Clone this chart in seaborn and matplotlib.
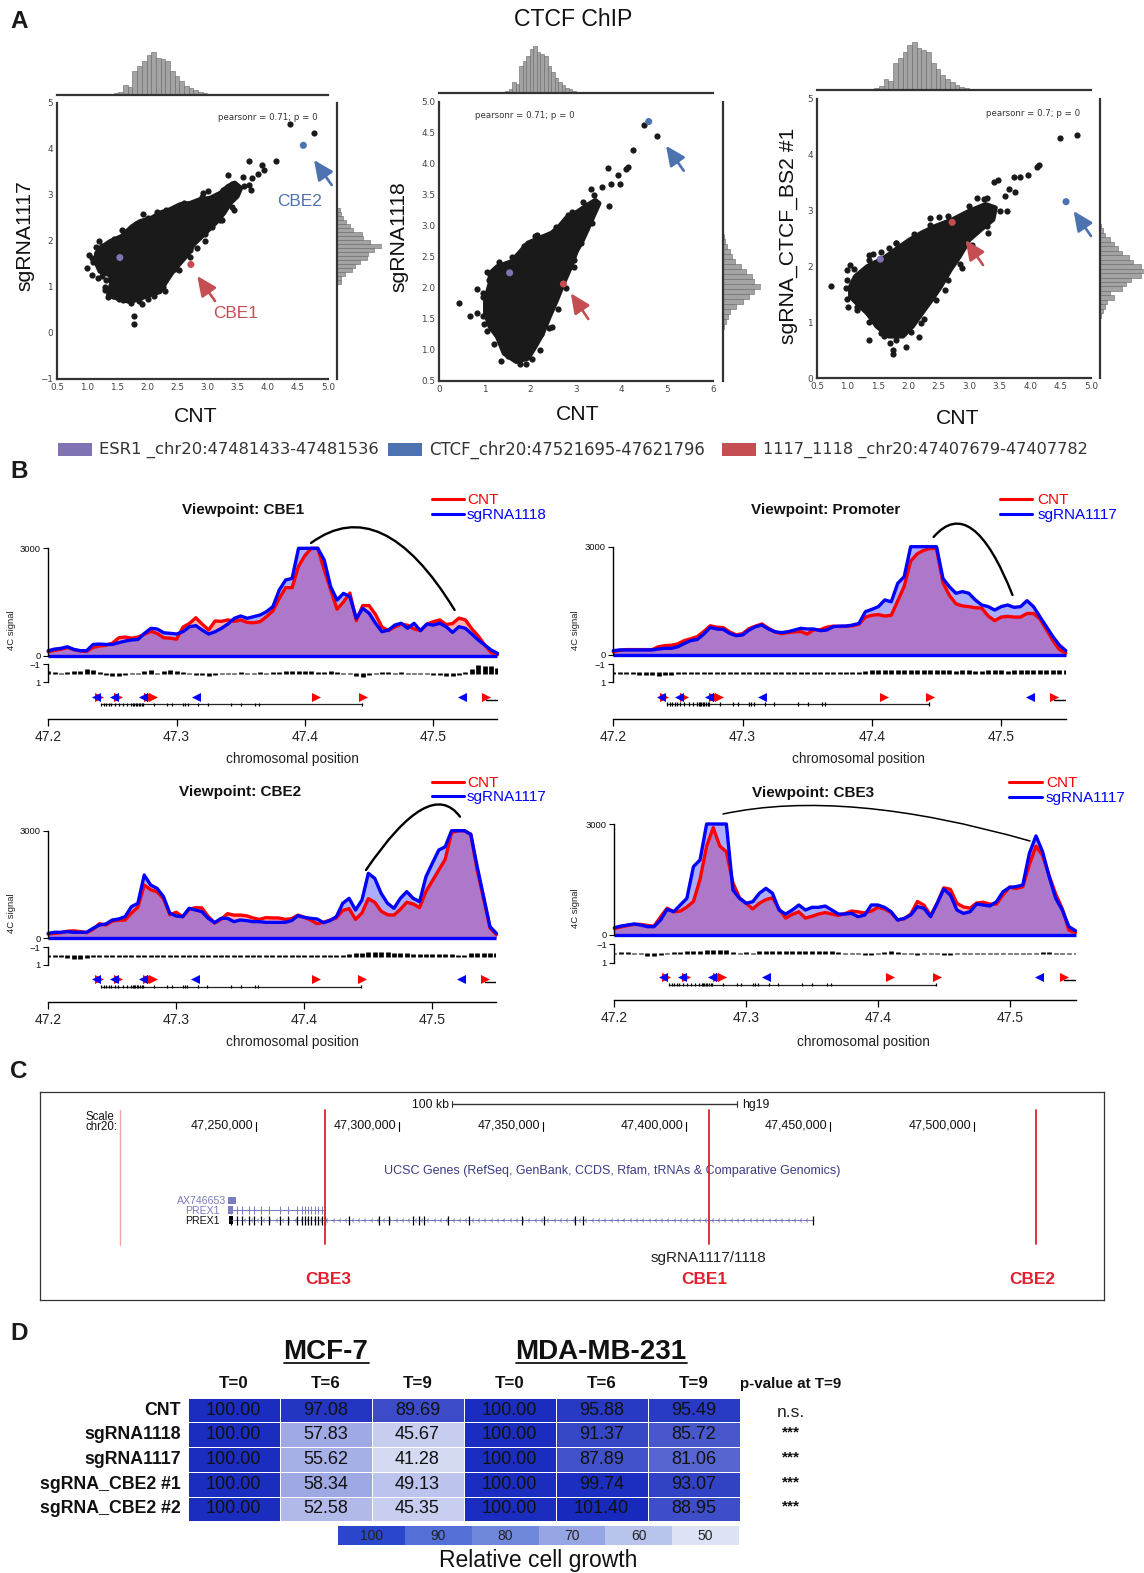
import numpy as np
import matplotlib
matplotlib.use('Agg')
import matplotlib.pyplot as plt
from matplotlib.colors import LinearSegmentedColormap, ListedColormap
from matplotlib.patches import Rectangle, PathPatch, FancyArrowPatch
from matplotlib.path import Path
import seaborn as sns

W, H = 1144, 1573

# ---- panel A data
cnt_centers = [1.40,1.48,1.56,1.63,1.71,1.79,1.87,1.94,2.02,2.10,2.18,2.25,2.33,2.41,2.49,2.56,2.64,2.72,2.80,2.87,2.95,3.03,3.11]
cnt_counts = [2,5,10,30,25,72,85,100,118,127,110,105,100,72,55,40,28,20,14,9,5,3,2]

sg1117_centers = [2.68,2.59,2.51,2.42,2.33,2.25,2.16,2.07,1.99,1.90,1.81,1.72,1.64,1.55,1.46,1.38,1.29,1.20,1.12]
sg1117_counts = [8,13,18,28,38,48,75,78,100,135,110,92,90,68,55,45,25,12,12]
sg1118_centers = [2.82,2.74,2.66,2.58,2.50,2.42,2.34,2.26,2.18,2.10,2.02,1.94,1.86,1.78,1.70,1.62,1.54,1.46,1.38]
sg1118_counts = [3,5,10,15,20,25,38,48,60,65,78,65,55,42,28,15,12,8,3]
sgbs2_centers = [2.72,2.64,2.56,2.48,2.40,2.32,2.24,2.16,2.08,2.00,1.92,1.84,1.76,1.68,1.60,1.52,1.44,1.36,1.28,1.20,1.12]
sgbs2_counts = [2,6,10,20,30,38,45,60,70,85,92,85,65,55,45,20,30,15,10,6,3]

# dense part of each scatter is kept as an outline, the loose points as points
blob1_x = [1.15,1.21,1.38,1.57,1.74,1.87,2.07,2.21,2.37,2.54,2.71,2.87,3.04,3.21,3.34,3.45,3.55,3.49,3.37,3.27,3.15,3.01,2.87,2.76,2.68,2.54,2.40,2.29,2.21,2.04,1.87,1.71,1.51,1.35,1.40,1.38,1.21,1.15]
blob1_y = [1.73,1.84,1.99,2.10,2.31,2.42,2.50,2.61,2.68,2.79,2.82,2.90,2.93,3.04,3.19,3.26,3.15,2.97,2.82,2.61,2.42,2.24,2.06,1.92,1.73,1.52,1.30,1.08,0.90,0.83,0.75,0.68,0.75,0.83,1.08,1.26,1.34,1.52]
pts1_x = [4.37,4.76,4.14,3.69,3.90,3.94,3.33,3.59,3.74,3.84,3.68,3.72,3.44,2.93,3.01,1.93,2.16,1.58,1.20,1.15,1.03,1.07,0.99,1.08,1.18,1.31,1.29,1.35,1.53,1.72,1.91,2.00,1.78,1.78,2.29,2.52,2.70,2.82,2.96,3.23,3.07,
          1.10,1.25,1.45,1.65,1.80,2.00,2.30,2.60,2.90,3.25,3.40,3.60,3.40,3.20,2.95,2.70,2.45,2.25,2.10,1.85,1.60,1.42,1.30,1.25]
pts1_y = [4.54,4.35,3.74,3.74,3.66,3.55,3.43,3.39,3.37,3.46,3.22,3.11,2.68,3.05,3.08,2.58,2.64,2.24,2.01,1.88,1.70,1.63,1.41,1.26,1.19,1.15,0.94,0.79,0.73,0.65,0.62,0.73,0.36,0.20,0.92,1.36,1.66,1.84,2.01,2.45,2.31,
          1.55,1.90,2.05,2.20,2.38,2.50,2.68,2.82,2.95,3.10,3.25,3.20,2.75,2.45,2.15,1.80,1.40,1.00,0.80,0.70,0.72,0.80,1.00,1.25]

blob2_x = [1.11,1.11,1.27,1.58,1.74,1.94,2.20,2.46,2.62,2.78,3.04,3.24,3.42,3.50,3.42,3.27,3.14,3.00,2.88,2.72,2.57,2.41,2.26,2.10,1.94,1.68,1.42,1.27,1.11,1.01,1.01]
blob2_y = [2.07,2.23,2.34,2.42,2.55,2.72,2.80,2.88,2.98,3.12,3.23,3.33,3.41,3.36,3.23,2.98,2.77,2.58,2.34,2.07,1.80,1.53,1.26,1.05,0.86,0.81,0.94,1.21,1.37,1.59,1.80]
pts2_x = [4.49,4.77,4.24,3.69,4.13,4.09,3.91,3.97,3.32,3.56,3.76,3.71,0.44,0.67,0.82,0.82,1.09,1.29,1.68,2.10,0.96,0.98,1.34,1.76,1.89,2.48,2.22,2.96,2.83,
          1.05,1.30,1.60,1.85,2.15,2.55,2.90,3.15,3.40,3.35,3.10,2.95,2.78,2.60,2.40,2.20,2.02,1.75,1.50,1.20,1.05,0.95,0.95]
pts2_y = [4.63,4.44,4.22,3.93,3.94,3.91,3.81,3.67,3.60,3.63,3.68,3.31,1.76,1.55,1.59,1.98,2.12,2.30,2.48,2.83,1.91,1.41,0.82,0.77,0.77,1.36,1.25,2.33,3.17,
          2.25,2.42,2.50,2.68,2.85,2.98,3.22,3.38,3.50,3.05,2.72,2.45,2.00,1.65,1.35,1.00,0.85,0.82,0.90,1.10,1.30,1.55,1.85]

blob3_x = [1.05,1.13,1.33,1.60,1.83,2.03,2.22,2.45,2.73,3.00,3.27,3.43,3.39,3.19,3.00,2.84,2.69,2.53,2.38,2.22,2.07,1.91,1.68,1.48,1.33,1.21,1.05]
blob3_y = [1.64,1.82,2.00,2.15,2.33,2.48,2.60,2.72,2.84,2.99,3.11,3.05,2.84,2.66,2.48,2.18,1.94,1.64,1.40,1.16,0.93,0.75,0.75,0.93,1.16,1.28,1.46]
pts3_x = [4.49,4.77,4.14,4.11,3.97,3.84,3.74,3.41,3.48,3.66,3.76,3.62,3.12,3.30,3.06,2.51,2.35,1.79,1.68,1.36,1.42,1.05,0.99,0.73,0.98,1.01,1.15,1.33,1.35,1.60,1.70,1.75,1.75,1.96,2.17,2.20,2.61,2.88,3.31,3.58,
          1.00,1.10,1.35,1.55,1.80,2.10,2.35,2.65,3.00,3.25,3.50,3.30,3.05,2.85,2.65,2.45,2.25,2.05,1.80,1.55,1.35,1.15,1.00]
pts3_y = [4.31,4.36,3.81,3.78,3.63,3.60,3.61,3.52,3.54,3.39,3.33,2.99,3.23,3.23,3.00,2.88,2.87,2.42,2.33,2.21,2.23,2.02,1.94,1.64,1.61,1.28,1.28,1.16,0.68,0.75,0.63,0.51,0.43,0.55,0.73,0.99,1.58,1.97,2.60,3.26,
          1.75,1.95,2.12,2.25,2.42,2.58,2.75,2.90,3.08,3.20,3.00,2.72,2.38,2.05,1.75,1.40,1.05,0.82,0.68,0.80,1.00,1.22,1.42]

# highlighted sites: ESR1, CTCF, 1117_1118
hi_x = [1.54,4.59,2.72]
hi1_y = [1.64,4.08,1.49]
hi2_y = [2.24,4.68,2.06]
hi3_y = [2.13,3.16,2.79]
legend_labels = ['ESR1 _chr20:47481433-47481536', 'CTCF_chr20:47521695-47621796', '1117_1118 _chr20:47407679-47407782']

# ---- panel B data, signal every 5 kb from 47.200 to 47.550
positions = np.arange(47200, 47551, 5) / 1000

cbe1_cnt = [110,150,180,230,170,130,120,230,270,290,350,500,520,490,520,600,680,620,500,490,460,800,900,1060,880,720,970,960,1000,960,1000,930,920,950,1090,1250,1600,1900,1900,2500,2800,3000,3000,2400,1850,1300,1500,1750,980,1400,1400,1150,800,700,800,880,850,750,700,880,950,1000,870,900,1050,1000,750,550,300,90,30]
cbe1_sg = [140,185,205,250,175,140,140,315,325,315,315,365,410,440,455,625,765,745,640,625,605,670,810,840,715,605,670,765,885,1045,1110,1045,1090,1135,1230,1370,1835,2115,2160,3000,3000,3000,3000,2675,1930,1555,1740,1650,1045,1320,1185,905,670,715,855,905,765,905,700,885,855,905,810,650,810,765,605,440,300,160,65]

prom_cnt = [90,130,150,150,150,150,150,230,260,270,310,400,450,510,650,810,770,760,640,560,590,730,800,860,740,640,590,620,640,650,580,700,700,770,800,790,800,810,850,1050,1100,1120,1080,1100,1500,1900,2600,2800,2900,2950,2950,2000,1650,1420,1360,1340,1310,1300,1080,950,1050,1070,1050,1050,1150,1150,1000,700,400,150,50]
prom_sg = [120,140,140,140,140,140,140,165,185,185,230,320,400,430,580,765,720,710,600,535,555,690,785,830,720,645,620,645,690,740,720,720,675,690,785,800,800,830,875,1200,1265,1340,1525,1475,1985,2170,3000,3000,3000,3000,3000,2120,1890,1710,1755,1710,1525,1385,1340,1245,1340,1385,1320,1340,1505,1340,1060,785,510,275,120]

cbe2_cnt = [110,130,150,190,200,180,150,240,400,360,470,500,500,700,860,1480,1350,1290,1100,650,720,590,800,850,840,600,420,520,680,640,640,620,560,520,570,560,560,520,540,640,580,500,400,440,500,560,770,820,520,700,1100,1000,750,650,640,800,1000,950,850,1300,1600,1900,2200,2950,3000,3000,2900,1900,1100,280,90]
cbe2_sg = [130,160,160,177,160,160,160,270,363,391,503,531,596,876,969,1761,1482,1389,1156,690,615,596,830,783,736,550,429,550,550,457,503,485,457,457,438,438,438,438,485,624,578,550,531,429,485,596,969,1109,783,1062,1808,1668,1249,969,830,1109,1295,1109,1016,1715,2090,2460,2550,3000,3000,3000,2900,1995,1156,317,130]

cbe3_cnt = [170,210,250,280,280,250,230,480,720,620,640,750,900,1500,2400,2900,2400,2250,1400,1000,850,700,850,950,1000,700,450,550,620,450,500,560,600,560,520,570,640,620,590,640,740,700,600,400,430,560,900,800,520,850,1270,1230,850,750,720,860,880,830,830,1080,1290,1250,1300,1900,2400,2150,1600,1100,700,120,60]
cbe3_sg = [190,235,262,290,262,217,217,398,687,624,805,985,1845,2025,3000,3000,3000,3000,1211,985,850,895,1121,1257,1121,669,560,669,805,669,741,741,777,669,560,560,578,488,533,805,805,741,624,398,443,533,760,714,488,850,1238,1076,669,578,624,832,805,777,895,1166,1284,1302,1347,2206,2676,2251,1573,985,669,217,108]

# log ratio track under each profile (negative is up)
cbe1_diff = [-0.2,-0.1,0.1,-0.1,-0.3,-0.3,-0.5,-0.4,-0.1,0.2,0.3,0.3,0.2,0.1,0,-0.2,-0.4,0,-0.3,-0.4,-0.2,-0.1,0.1,0.2,0.2,0.3,0.2,0.1,0,0,-0.1,0,0,-0.1,0,-0.1,-0.1,-0.2,-0.3,-0.3,-0.3,-0.2,-0.1,-0.1,-0.2,-0.1,0,0.1,0.3,0.4,0.2,0,-0.1,-0.1,0,-0.1,0.1,0,0.1,0.1,0.2,0.2,0.3,0.3,0.2,-0.1,-0.5,-0.9,-0.8,-0.8,-0.6]
prom_diff = [0,0.05,0.1,0.15,0.2,0.25,0.25,0.3,0.25,0.2,0.1,0.1,0.1,0.1,0.05,0.05,0,0,0,0,-0.05,0,0,0,0,-0.05,0,0,-0.1,-0.1,-0.1,-0.1,-0.1,0,-0.1,-0.1,-0.1,-0.1,-0.1,-0.2,-0.3,-0.3,-0.3,-0.3,-0.3,-0.35,-0.35,-0.35,-0.3,-0.3,-0.3,-0.3,-0.3,-0.25,-0.3,-0.3,-0.25,-0.25,-0.3,-0.3,-0.3,-0.25,-0.3,-0.3,-0.3,-0.3,-0.3,-0.3,-0.3,-0.3,-0.3]
cbe2_diff = [-0.1,0,0.1,0.2,0.3,0.35,0.2,0.1,0.1,0,-0.1,-0.1,-0.15,-0.15,-0.15,-0.1,0,0.1,0,0,0,0,0,0,-0.05,-0.05,0,0,0.05,0.05,0.1,0.1,0.1,0.1,0.1,0.1,0.1,0.05,0.05,0,-0.05,-0.1,-0.1,-0.15,-0.1,-0.05,-0.1,-0.2,-0.3,-0.4,-0.45,-0.5,-0.5,-0.45,-0.3,-0.3,-0.3,-0.25,-0.25,-0.25,-0.25,-0.25,-0.25,-0.2,-0.1,-0.15,-0.35,-0.3,-0.3,-0.35,-0.3]
cbe3_diff = [-0.05,-0.1,-0.1,0,0.1,0.3,0.3,0.2,0,-0.1,-0.15,-0.25,-0.3,-0.3,-0.35,-0.4,-0.4,-0.35,-0.1,-0.05,-0.1,-0.05,-0.2,-0.25,-0.2,-0.2,-0.25,-0.25,-0.2,-0.2,-0.25,-0.3,-0.3,-0.25,-0.1,0,0,0.1,0.2,0.15,-0.05,-0.1,-0.2,-0.1,0.1,0.1,0.15,0.1,0.05,0.1,0.15,0.15,0.1,0.1,0.1,0.05,0,0,0.05,0,-0.05,-0.05,-0.05,0,-0.05,-0.1,-0.1,-0.05,-0.05,0,0]

ctcf_left = [47.237,47.251,47.274,47.315,47.522]
ctcf_right = [47.2395,47.2545,47.2775,47.2800,47.2815,47.409,47.445,47.541]
prex1_exons = [47241.5,47243.5,47245.1,47247.6,47249.3,47251.9,47254.8,47258.4,47261.3,47264.5,47266.2,47267.2,47268.1,47269.3,47270.5,47271.7,47273.0,47274.2,47282.6,47292.8,47296.4,47304.9,47306.8,47308.7,47317.0,47324.2,47342.6,47350.3,47361.2,47364.1,47444.2]

# ---- panel C data
browser_ticks = [47250,47300,47350,47400,47450,47500]
browser_labels = ['47,250,000','47,300,000','47,350,000','47,400,000','47,450,000','47,500,000']
bright_sites = [47274.0,47407.7,47521.7]
pale_site = 47202.6
site_names = ['CBE3','CBE1','CBE2']
site_label_x = [47275.4,47406.2,47520.4]

# ---- panel D data
growth_rows = ['CNT','sgRNA1118','sgRNA1117','sgRNA_CBE2 #1','sgRNA_CBE2 #2']
growth_cols = ['T=0','T=6','T=9','T=0','T=6','T=9']
growth = [[100.00,97.08,89.69,100.00,95.88,95.49],
          [100.00,57.83,45.67,100.00,91.37,85.72],
          [100.00,55.62,41.28,100.00,87.89,81.06],
          [100.00,58.34,49.13,100.00,99.74,93.07],
          [100.00,52.58,45.35,100.00,101.40,88.95]]
pvalues = ['n.s.','***','***','***','***']
scale_values = [100,90,80,70,60,50]
scale_colors = ['#2a47cc','#5470d8','#7088dc','#96a6e4','#b8c4ec','#dde2f4']

sns.set_theme(style='white')
plt.rcParams['font.family'] = ['Liberation Sans', 'DejaVu Sans']
deep = sns.color_palette('deep')
c_blue, c_red, c_purple = deep[0], deep[3], deep[4]
DARK = '#1a1a1a'
SPINE = '#333333'

fig = plt.figure(figsize=(W / 100, H / 100), dpi=100, facecolor='white')


def box(l, t, r, b):
    return fig.add_axes([l / W, 1 - b / H, (r - l) / W, (b - t) / H])


# everything that is only annotation goes on this pixel sized layer
ov = fig.add_axes([0, 0, 1, 1], zorder=20)
ov.set_xlim(0, W)
ov.set_ylim(H, 0)
ov.axis('off')
ov.patch.set_alpha(0)


def label(x, y, s, size, **kw):
    kw.setdefault('ha', 'center')
    kw.setdefault('va', 'center')
    # matplotlib centres on the full line box, these nudges put the glyphs where they belong
    if kw.get('rotation') == 90:
        x += 2
    else:
        y += 1
    ov.text(x, y, s, fontsize=size, **kw)


def arrow(tail, head, color):
    ov.add_patch(FancyArrowPatch(tail, head, color=color, lw=1.9,
                                 arrowstyle='-|>,head_length=0.7,head_width=0.32',
                                 mutation_scale=17, shrinkA=0, shrinkB=0))


def top_hist(rect, xlim):
    ax = box(*rect)
    w = 0.0776
    sns.histplot(x=cnt_centers, weights=cnt_counts, bins=len(cnt_centers),
                 binrange=(cnt_centers[0] - w / 2, cnt_centers[-1] + w / 2), ax=ax,
                 color='#a3a3a3', edgecolor='#666666', linewidth=0.4, alpha=1)
    ax.set_xlim(*xlim)
    ax.set_ylim(0, 127)
    ax.set(xlabel='', ylabel='', xticks=[], yticks=[])
    sns.despine(ax=ax, left=True)
    ax.spines['bottom'].set(color=SPINE, lw=1.6)
    ax.patch.set_alpha(0)


def right_hist(rect, centers, counts, ylim):
    ax = box(*rect)
    w = abs(centers[1] - centers[0])
    sns.histplot(y=centers, weights=counts, bins=len(centers),
                 binrange=(centers[-1] - w / 2, centers[0] + w / 2), ax=ax,
                 color='#a3a3a3', edgecolor='#666666', linewidth=0.4, alpha=1)
    ax.set_ylim(*ylim)
    ax.set_xlim(0, max(counts))
    ax.set(xlabel='', ylabel='', xticks=[], yticks=[])
    sns.despine(ax=ax, bottom=True)
    ax.spines['left'].set(color=SPINE, lw=1.6)
    ax.patch.set_alpha(0)


def joint(rect, xlim, ylim, xticks, yticks, xfmt, yfmt, blob, pts, hi_y):
    ax = box(*rect)
    ax.fill(blob[0], blob[1], color=DARK, lw=3.5, joinstyle='round')
    sns.scatterplot(x=pts[0], y=pts[1], color=DARK, s=20, linewidth=0, ax=ax)
    sns.scatterplot(x=hi_x, y=hi_y, hue=['e', 'c', 'r'], palette=[c_purple, c_blue, c_red],
                    s=26, linewidth=0, ax=ax, legend=False, zorder=5)
    ax.set_xlim(*xlim)
    ax.set_ylim(*ylim)
    ax.set_xticks(xticks)
    ax.set_yticks(yticks)
    ax.set_xticklabels([xfmt % v for v in xticks], family='DejaVu Sans', color='#444444')
    ax.set_yticklabels([(yfmt % v).replace('-', '\u2212') for v in yticks], family='DejaVu Sans', color='#444444')
    ax.tick_params(labelsize=6.4, length=0, pad=3)
    sns.despine(ax=ax)
    for s in ['left', 'bottom']:
        ax.spines[s].set(color=SPINE, lw=1.6)
    return ax


# ---- panel A
joint((57.3, 103, 328, 379), (0.5, 5), (-1, 5), [0.5,1,1.5,2,2.5,3,3.5,4,4.5,5], [-1,0,1,2,3,4,5],
      '%.1f', '%d', (blob1_x, blob1_y), (pts1_x, pts1_y), hi1_y)
top_hist((57.3, 52, 328, 95), (0.5, 5))
right_hist((337, 103, 382, 379), sg1117_centers, sg1117_counts, (-1, 5))

joint((439.4, 101.7, 713, 380.7), (0, 6), (0.5, 5), [0,1,2,3,4,5,6], [0.5,1,1.5,2,2.5,3,3.5,4,4.5,5],
      '%d', '%.1f', (blob2_x, blob2_y), (pts2_x, pts2_y), hi2_y)
top_hist((439.4, 46, 713, 92.7), (0, 6))
right_hist((722.6, 101.7, 760.5, 380.7), sg1118_centers, sg1118_counts, (0.5, 5))

joint((817, 99, 1091, 378), (0.5, 5), (0, 5), [0.5,1,1.5,2,2.5,3,3.5,4,4.5,5], [0,1,2,3,4,5],
      '%.1f', '%d', (blob3_x, blob3_y), (pts3_x, pts3_y), hi3_y)
top_hist((817, 42, 1091, 90), (0.5, 5))
right_hist((1100, 99, 1144, 378), sgbs2_centers, sgbs2_counts, (0, 5))

label(573, 18.5, 'CTCF ChIP', 16.6, color='#111111')
label(23.3, 236, 'sgRNA1117', 15.2, rotation=90, color='#111111')
label(397.4, 237, 'sgRNA1118', 15.2, rotation=90, color='#111111')
label(786, 236, 'sgRNA_CTCF_BS2 #1', 15.2, rotation=90, color='#111111')
label(196, 416, 'CNT', 15.2, color='#111111')
label(578, 413, 'CNT', 15.2, color='#111111')
label(958, 418, 'CNT', 15.2, color='#111111')
pearson_kw = dict(family='DejaVu Sans', color='#333333')
label(267.7, 116, 'pearsonr = 0.71; p = 0', 6.2, **pearson_kw)
label(524.5, 114.3, 'pearsonr = 0.71; p = 0', 6.2, **pearson_kw)
label(1033.3, 112, 'pearsonr = 0.7; p = 0', 6.2, **pearson_kw)

arrow((215, 301), (197.3, 276), c_red)
arrow((331.7, 185), (314, 160), c_blue)
arrow((588.3, 319), (570.8, 293.3), c_red)
arrow((683.7, 170.7), (666, 145.7), c_blue)
arrow((983, 265), (965.5, 240), c_red)
arrow((1091, 236), (1073.6, 211), c_blue)
label(300, 201, 'CBE2', 12.4, color=c_blue)
label(236, 312.7, 'CBE1', 12.4, color=c_red)

for (x0, x1, tx, fs), name, col in zip([(57.5, 92, 99, 11.8), (388, 421.8, 429.4, 11.9), (722, 755.8, 763, 11.65)],
                                       legend_labels, [c_purple, c_blue, c_red]):
    ov.add_patch(Rectangle((x0, 443), x1 - x0, 12.5, color=col, lw=0))
    label(tx, 449, name, fs, ha='left', family='DejaVu Sans', color='#333333')


# ---- panel B
def profile(cfg, cnt, sg, diff):
    l, r = cfg['l'], cfg['r']
    ax = box(l, cfg['y3000'], r, cfg['y0'])
    ax.fill_between(positions, cnt, color='red', alpha=0.3, lw=0)
    sns.lineplot(x=positions, y=cnt, color='red', lw=2.4, ax=ax, errorbar=None, clip_on=False)
    ax.fill_between(positions, sg, color='blue', alpha=0.32, lw=0)
    sns.lineplot(x=positions, y=sg, color='blue', lw=2.4, ax=ax, errorbar=None, clip_on=False)
    ax.plot([47.2, 47.55], [0, 0], color='blue', lw=2.4, clip_on=False, solid_capstyle='butt')
    ax.set_xlim(47.2, 47.55)
    ax.set_ylim(0, 3000)
    ax.set_xticks([])
    ax.set_yticks([0, 3000])
    ax.tick_params(left=True, length=3.5, width=0.8, labelsize=6.8, pad=2, color='black', labelcolor='#111111')
    ax.set(xlabel='', ylabel='')
    sns.despine(ax=ax, bottom=True)
    ax.spines['left'].set(color='black', lw=1)
    ax.patch.set_alpha(0)

    d = box(l, cfg['ym1'], r, cfg['yp1'])
    # every bar keeps a small height so the track does not vanish at zero
    d.vlines(positions, np.minimum(diff, -0.08), np.maximum(diff, 0.08), color='black', lw=3.4)
    d.set_xlim(47.2, 47.55)
    d.set_ylim(1, -1)
    d.set_xticks([])
    d.set_yticks([-1, 1])
    d.set_yticklabels(['\u22121', '1'])
    d.tick_params(left=True, length=3.5, width=0.8, labelsize=6.8, pad=2, color='black', labelcolor='#111111')
    sns.despine(ax=d, bottom=True)
    d.spines['left'].set(color='black', lw=1)
    d.patch.set_alpha(0)

    ya, yg, yx = cfg['yarrow'], cfg['ygene'], cfg['yaxis']
    step = yg - ya
    t = box(l, ya - step, r, yx)
    t.set_xlim(47.2, 47.55)
    t.set_ylim((yx - ya) / step, -1)
    sns.scatterplot(x=ctcf_right, y=[0] * len(ctcf_right), color='red', marker='>', s=42, linewidth=0, ax=t, clip_on=False)
    sns.scatterplot(x=ctcf_left, y=[0] * len(ctcf_left), color='blue', marker='<', s=42, linewidth=0, ax=t, clip_on=False)
    t.plot([47.2415, 47.4442], [1, 1], color='#222222', lw=0.9)
    ex = np.array(prex1_exons) / 1000
    t.vlines(ex[ex < 47.4442], 0.78, 1.22, color='black', lw=0.9)
    t.plot([47.541, 47.55], [0.42, 0.42], color='black', lw=1)
    t.set_xticks([47.2, 47.3, 47.4, 47.5])
    t.set_xticklabels(['47.2', '47.3', '47.4', '47.5'])
    t.set_yticks([])
    t.tick_params(bottom=True, length=5, width=0.9, labelsize=10, pad=3, color='black', labelcolor='#222222')
    sns.despine(ax=t, left=True)
    t.spines['bottom'].set(color='black', lw=1)
    t.patch.set_alpha(0)

    label(cfg['title_x'], cfg['title_y'], 'Viewpoint: ' + cfg['view'], 11, weight='bold', color='#111111')
    label(cfg['xlab_x'], cfg['xlab_y'], 'chromosomal position', 9.8, color='#222222')
    label(cfg['ylab_x'], cfg['ylab_y'], '4C signal', 6.8, rotation=90, color='#222222')
    lx0, lx1, lt, ly0, ly1 = cfg['leg']
    ov.plot([lx0, lx1], [ly0, ly0], color='red', lw=2.2)
    ov.plot([lx0, lx1], [ly1, ly1], color='blue', lw=2.2)
    label(lt, ly0, 'CNT', 11, ha='left', color='red')
    label(lt, ly1, cfg['sg'], 11, ha='left', color='blue')
    p0, c, p2 = cfg['arc']
    ov.add_patch(PathPatch(Path([p0, c, p2], [Path.MOVETO, Path.CURVE3, Path.CURVE3]),
                           fc='none', ec='black', lw=cfg.get('arc_lw', 1.7), capstyle='round'))


profile(dict(l=48.2, r=497.5, y3000=548.3, y0=655.7, ym1=664.3, yp1=682.3, yarrow=697, ygene=704.3, yaxis=719.3,
             view='CBE1', sg='sgRNA1118', title_x=243, title_y=509, xlab_x=292.6, xlab_y=758, ylab_x=10, ylab_y=630,
             leg=(432, 464, 467, 499, 514), arc=((311, 543), (382, 491), (454.6, 610))),
        cbe1_cnt, cbe1_sg, cbe1_diff)
profile(dict(l=613.3, r=1065.8, y3000=546.7, y0=655, ym1=664, yp1=682, yarrow=696.7, ygene=704, yaxis=719.3,
             view='Promoter', sg='sgRNA1117', title_x=826, title_y=509, xlab_x=858.7, xlab_y=758, ylab_x=574, ylab_y=630,
             leg=(999.5, 1032, 1037.5, 499, 514), arc=((933.6, 537), (972, 492.6), (1012.5, 595))),
        prom_cnt, prom_sg, prom_diff)
profile(dict(l=48.2, r=496.4, y3000=830.7, y0=938, ym1=947.3, yp1=965, yarrow=979.3, ygene=986.7, yaxis=1001.7,
             view='CBE2', sg='sgRNA1117', title_x=240.4, title_y=790.7, xlab_x=292, xlab_y=1040.7, ylab_x=10, ylab_y=913,
             leg=(432, 464, 467, 781.7, 796), arc=((366, 870), (430, 776), (460, 816.7))),
        cbe2_cnt, cbe2_sg, cbe2_diff)
profile(dict(l=614.4, r=1075.5, y3000=824, y0=934.7, ym1=944, yp1=962.7, yarrow=977.3, ygene=984.7, yaxis=1000.3,
             view='CBE3', sg='sgRNA1117', title_x=813, title_y=791.7, xlab_x=863.5, xlab_y=1040.7, ylab_x=574, ylab_y=908,
             leg=(1008.8, 1042.3, 1046, 781.7, 796.7), arc=((723, 814), (845, 788), (1030, 841)), arc_lw=1.1),
        cbe3_cnt, cbe3_sg, cbe3_diff)

# ---- panel C, x in kb on the chromosome, y in pixels of the page
bx = box(40, 1092, 1104, 1300)
bx.set_xlim(47174.9, 47545.4)
bx.set_ylim(1300, 1092)
bx.set_xticks([])
bx.set_yticks([])
for s in bx.spines.values():
    s.set(color='#333333', lw=0.9, visible=True)
for k, lab in zip(browser_ticks, browser_labels):
    bx.plot([k, k], [1122, 1131], color='black', lw=0.8)
    bx.annotate(lab, (k, 1126), xytext=(-2, 0), textcoords='offset points', ha='right', va='center', fontsize=9, color='#111111')
bx.plot([pale_site, pale_site], [1110, 1245], color='#f4a6a6', lw=1)
for k in bright_sites:
    bx.plot([k, k], [1110, 1244], color='#d9232e', lw=1.3, zorder=4)
for k, name in zip(site_label_x, site_names):
    bx.text(k, 1280, name, ha='center', va='center', fontsize=12.4, weight='bold', color='#e0202c')
bx.text(47407.5, 1257.7, 'sgRNA1117/1118', ha='center', va='center', fontsize=11, color='#222222')
bx.text(47374, 1171, 'UCSC Genes (RefSeq, GenBank, CCDS, Rfam, tRNAs & Comparative Genomics)', ha='center', va='center',
        fontsize=9, color='#3b3b86')
ex = np.array(prex1_exons)
light = ex[ex < 47274]
bx.plot([47241, 47273.5], [1210, 1210], color='#7c7cc0', lw=0.8)
bx.vlines(light, 1206, 1214, color='#7c7cc0', lw=0.7)
bx.add_patch(Rectangle((47240.2, 1197), 2.8, 7, color='#7c7cc0', lw=0))
bx.add_patch(Rectangle((47240.2, 1206), 2.0, 8, color='#7c7cc0', lw=0))
chev = np.arange(47246, 47444, 2.2)
bx.plot(chev, [1220] * len(chev), ls='none', marker='3', ms=3.6, mew=0.6, color='#6a6ab0')
bx.plot([47241, 47444.2], [1220, 1220], color='#6a6ab0', lw=0.6)
bx.vlines(ex, 1215.5, 1224.5, color='black', lw=0.9, zorder=3)
bx.add_patch(Rectangle((47240.6, 1216), 1.5, 8, color='black', lw=0))
label(225.8, 1200, 'AX746653', 7.6, ha='right', color='#7c7cc0')
label(220, 1209.5, 'PREX1', 7.6, ha='right', color='#7c7cc0')
label(220, 1219.5, 'PREX1', 7.6, ha='right', color='#111111')
label(114.7, 1115.7, 'Scale', 8.3, ha='right', color='#111111')
label(117.5, 1125.5, 'chr20:', 8.3, ha='right', color='#111111')
label(448.5, 1104, '100 kb', 8.8, ha='right', color='#111111')
ov.plot([451.5, 737], [1104, 1104], color='#333333', lw=1)
ov.plot([451.5, 451.5], [1101, 1107], color='#333333', lw=0.8)
ov.plot([737, 737], [1101, 1107], color='#333333', lw=0.8)
label(742, 1104, 'hg19', 8.8, ha='left', color='#111111')

# ---- panel D
cmap = LinearSegmentedColormap.from_list('growth', ['#e8ecf8', '#1528bd'])
hm = box(187.5, 1397.7, 739.5, 1521.3)
sns.heatmap(growth, cmap=cmap, vmin=35, vmax=102, annot=True, fmt='.2f', linewidths=0.7, linecolor='white', cbar=False,
            xticklabels=growth_cols, yticklabels=growth_rows, annot_kws=dict(fontsize=13, color='#111111'), ax=hm)
hm.xaxis.tick_top()
hm.tick_params(length=0, pad=4.5)
plt.setp(hm.get_xticklabels(), fontsize=12.2, weight='bold', color='#111111', rotation=0)
plt.setp(hm.get_yticklabels(), fontsize=12.8, weight='bold', color='#111111', rotation=0)

for y, p in zip([1411.7, 1431, 1456, 1481, 1505], pvalues):
    if p == 'n.s.':
        label(791, y, p, 12.5, color='#222222')
    else:
        label(791, y, p, 11, weight='bold', color='#111111')
label(791, 1382.7, 'p-value at T=9', 10.9, weight='bold', color='#111111')
label(326, 1350.7, 'MCF-7', 20, weight='bold', color='#111111')
label(600.7, 1350.7, 'MDA-MB-231', 20, weight='bold', color='#111111')
ov.plot([284, 368.6], [1362.5, 1362.5], color='#111111', lw=1.3)
ov.plot([515.6, 686.8], [1362.5, 1362.5], color='#111111', lw=1.3)

sc = box(338, 1526, 739, 1545)
sns.heatmap([scale_values], cmap=ListedColormap(scale_colors[::-1]), cbar=False, annot=True, fmt='d', xticklabels=False,
            yticklabels=False, annot_kws=dict(fontsize=10, color='#222222'), ax=sc)
label(538.6, 1560, 'Relative cell growth', 16.5, color='#111111')

for y, s in zip([20, 471, 1071, 1332], 'ABCD'):
    label(19, y, s, 17.5, weight='bold', color='#1a1a1a')

fig.savefig('out.png', dpi=100, facecolor='white')
